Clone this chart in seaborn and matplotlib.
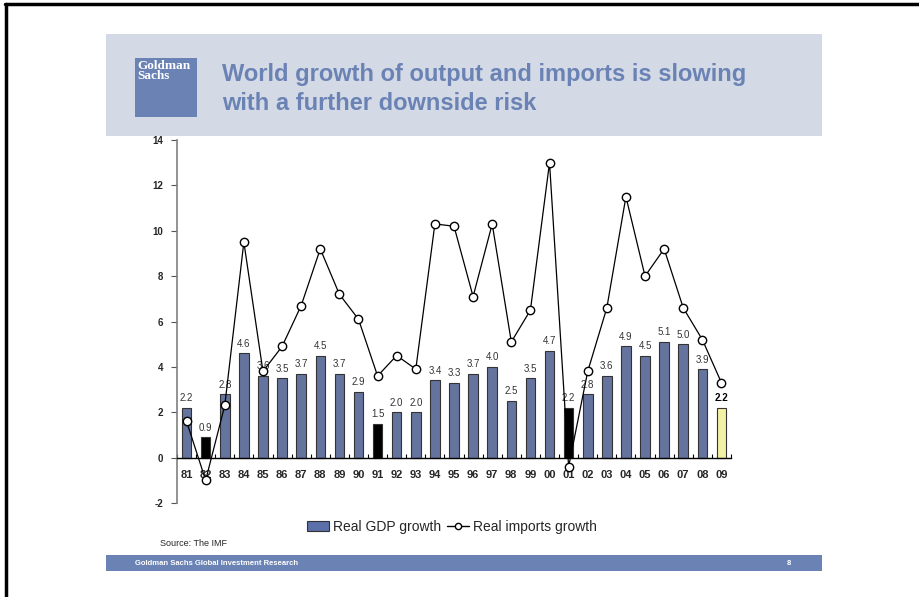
import numpy as np
import pandas as pd
import matplotlib.pyplot as plt
import seaborn as sns
from matplotlib.patches import Rectangle
from matplotlib.lines import Line2D
from matplotlib.ticker import FixedLocator

years = ['81', '82', '83', '84', '85', '86', '87', '88', '89', '90', '91', '92', '93', '94', '95',
         '96', '97', '98', '99', '00', '01', '02', '03', '04', '05', '06', '07', '08', '09']
gdp_growth = [2.2, 0.9, 2.8, 4.6, 3.6, 3.5, 3.7, 4.5, 3.7, 2.9, 1.5, 2.0, 2.0, 3.4, 3.3,
              3.7, 4.0, 2.5, 3.5, 4.7, 2.2, 2.8, 3.6, 4.9, 4.5, 5.1, 5.0, 3.9, 2.2]
imports_growth = [1.6, -1.0, 2.3, 9.5, 3.8, 4.9, 6.7, 9.2, 7.2, 6.1, 3.6, 4.5, 3.9, 10.3, 10.2,
                  7.1, 10.3, 5.1, 6.5, 13.0, -0.4, 3.8, 6.6, 11.5, 8.0, 9.2, 6.6, 5.2, 3.3]
recession_years = ['82', '91', '01']
forecast_years = ['09']

blue = '#5B70A8'
header_bg = '#D3DAE6'
brand = '#6A82B4'

df = pd.DataFrame({'year': years, 'gdp': gdp_growth, 'imports': imports_growth})
bar_colors = ['black' if y in recession_years else ('#FFFF99' if y in forecast_years else blue)
              for y in years]

sns.set_style('white')
plt.rcParams['font.family'] = ['Liberation Sans', 'DejaVu Sans']
plt.rcParams['axes.unicode_minus'] = False

fig = plt.figure(figsize=(9.19, 5.97), dpi=100)

# page frame lines (top and left)
fig.add_artist(Line2D([5 / 919, 1], [1 - 4 / 597, 1 - 4 / 597], color='black', lw=2.5))
fig.add_artist(Line2D([6 / 919, 6 / 919], [0, 1 - 4 / 597], color='black', lw=2.5))

# header band
fig.add_artist(Rectangle((106 / 919, 1 - 136 / 597), 716 / 919, 102 / 597,
                         facecolor=header_bg, edgecolor='none'))
fig.add_artist(Rectangle((135 / 919, 1 - 117 / 597), 62 / 919, 59 / 597,
                         facecolor=brand, edgecolor='none'))
fig.text(137 / 919, 1 - 60 / 597, 'Goldman\nSachs', color='white', fontsize=9.5,
         family='Liberation Serif', fontweight='bold', va='top', ha='left', linespacing=0.8)
fig.text(222 / 919, 1 - 89 / 597, 'World growth of output and imports is slowing\nwith a further downside risk',
         color=brand, fontsize=17, fontweight='bold', va='center', ha='left', linespacing=1.3)

# footer band
fig.add_artist(Rectangle((106 / 919, 1 - 571 / 597), 716 / 919, 16 / 597,
                         facecolor=brand, edgecolor='none'))
fig.text(135 / 919, 1 - 563.5 / 597, 'Goldman Sachs Global Investment Research', color='white',
         fontsize=5.5, fontweight='bold', va='center', ha='left')
fig.text(789 / 919, 1 - 563.5 / 597, '8', color='white', fontsize=5.5, fontweight='bold',
         va='center', ha='center')
fig.text(160 / 919, 1 - 543 / 597, 'Source: The IMF', fontsize=6.5, va='center', ha='left')

ax = fig.add_axes([177 / 919, 1 - 503 / 597, 554 / 919, 363 / 597])
ax.set_facecolor('none')

sns.barplot(data=df, x='year', y='gdp', order=years, palette=bar_colors, hue='year',
            legend=False, width=0.5, edgecolor='#333333', linewidth=0.8, ax=ax, zorder=2)
sns.lineplot(x=np.arange(len(years)), y=df['imports'], color='black', lw=0.9, marker='o',
             markersize=6, markerfacecolor='white', markeredgecolor='black', markeredgewidth=1,
             ax=ax, zorder=3)

for i, (y, v) in enumerate(zip(years, gdp_growth)):
    ax.text(i, v + 0.2, f'{v:.1f}', ha='center', va='bottom', fontsize=7,
            color='black' if y in forecast_years else '#333333',
            fontweight='bold' if y in forecast_years else 'normal', zorder=1)

ax.set_xlim(-0.5, 28.5)
ax.set_ylim(-2, 14)
ax.set_yticks(range(-2, 15, 2))
ax.set_xlabel('')
ax.set_ylabel('')

for s in ['top', 'right']:
    ax.spines[s].set_visible(False)
ax.spines['left'].set_color('#808080')
ax.spines['left'].set_linewidth(1.2)
ax.spines['bottom'].set_position(('data', 0))
ax.spines['bottom'].set_color('black')
ax.spines['bottom'].set_linewidth(1)

ax.tick_params(axis='y', direction='out', length=4, width=0.8, color='#555555',
               labelsize=7, pad=6, left=True)
for lab in ax.get_yticklabels():
    lab.set_fontweight('bold')
ax.tick_params(axis='x', which='major', length=0, labelsize=8, pad=9)
for lab in ax.get_xticklabels():
    lab.set_fontweight('bold')
ax.xaxis.set_minor_locator(FixedLocator(np.arange(-0.5, 29, 1)))
ax.tick_params(axis='x', which='minor', direction='in', length=3, width=0.8, color='black',
               bottom=True)

handles = [Rectangle((0, 0), 1, 1, facecolor=blue, edgecolor='#333333', linewidth=0.8),
           Line2D([], [], color='black', lw=1, marker='o', markersize=4.5,
                  markerfacecolor='white', markeredgecolor='black')]
fig.legend(handles, ['Real GDP growth', 'Real imports growth'], loc='center',
           bbox_to_anchor=(452 / 919, 1 - 527 / 597), ncol=2, frameon=False, fontsize=10,
           handlelength=1.6, handletextpad=0.3, columnspacing=0.4)

plt.savefig('out.png', dpi=100)
